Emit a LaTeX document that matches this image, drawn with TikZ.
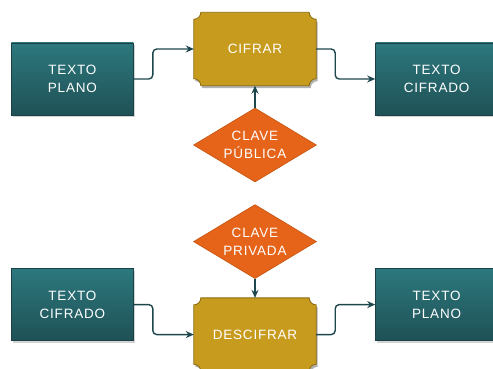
\documentclass[tikz,border=0pt]{standalone}
\usepackage{fontspec}
\setmainfont{Liberation Sans}
\newfontfamily\boxfont[LetterSpace=6]{Liberation Sans}
\usetikzlibrary{shapes.geometric,arrows.meta,positioning,calc,backgrounds,shadows}
\definecolor{dataTeal}{HTML}{2C787D}
\definecolor{dataTealLow}{HTML}{1F5156}
\definecolor{dataEdge}{HTML}{1A4146}
\definecolor{procGold}{HTML}{C79B1D}
\definecolor{procEdge}{HTML}{8C6B12}
\definecolor{keyOrange}{HTML}{E5641A}
\definecolor{keyEdge}{HTML}{C4540F}
\definecolor{flowTeal}{HTML}{1D474C}

% frame with notched corners round a named node
\newcommand{\notchframe}[2][]{%
  \path[#1] ($(#2.north west)+(0,-7pt)$) arc[start angle=-90,end angle=0,radius=7pt]
    -- ($(#2.north east)+(-7pt,0)$) arc[start angle=180,end angle=270,radius=7pt]
    -- ($(#2.south east)+(0,7pt)$) arc[start angle=90,end angle=180,radius=7pt]
    -- ($(#2.south west)+(7pt,0)$) arc[start angle=0,end angle=90,radius=7pt]
    -- cycle;}

\begin{document}
\begin{tikzpicture}[
    x=1pt, y=1pt,
    every node/.style={text=white, font=\boxfont\fontsize{13.5}{18}\selectfont, align=center},
    data/.style={rectangle, draw=dataEdge, line width=0.8pt,
                 top color=dataTeal, bottom color=dataTealLow,
                 minimum width=122pt, minimum height=72pt, inner sep=0pt,
                 drop shadow={opacity=0.35, shadow xshift=1.5pt, shadow yshift=-2.5pt}},
    proc/.style={rectangle, minimum width=122pt, minimum height=73pt, inner sep=0pt},
    key/.style={diamond, aspect=1.66, draw=keyEdge, line width=0.6pt, fill=keyOrange,
                minimum width=123pt, minimum height=74pt, inner sep=0pt},
    flow/.style={-{Stealth[length=8pt,width=7pt]}, line width=1.4pt,
                 draw=flowTeal, rounded corners=4pt},
]
    \useasboundingbox (0,0) rectangle (493,369);

    % encryption
    \node[proc] (enc) at (255,320) {CIFRAR};
    \node[data, left=60pt of enc, yshift=-30pt] (plainin) {TEXTO\\PLANO};
    \node[data, right=59pt of enc, yshift=-30pt] (cipherout) {TEXTO\\CIFRADO};
    \node[key, below=22pt of enc] (pubkey) {CLAVE\\PÚBLICA};

    % decryption
    \node[key, below=22pt of pubkey] (privkey) {CLAVE\\PRIVADA};
    \node[proc, below=19pt of privkey] (dec) {DESCIFRAR};
    \node[data, left=60pt of dec, yshift=30pt] (cipherin) {TEXTO\\CIFRADO};
    \node[data, right=59pt of dec, yshift=30pt] (plainout) {TEXTO\\PLANO};

    \begin{scope}[on background layer]
        \notchframe[fill=black, opacity=0.3, transform canvas={shift={(1.5pt,-2.5pt)}}]{enc}
        \notchframe[fill=procGold, draw=procEdge, line width=0.8pt]{enc}
        \notchframe[fill=black, opacity=0.3, transform canvas={shift={(1.5pt,-2.5pt)}}]{dec}
        \notchframe[fill=procGold, draw=procEdge, line width=0.8pt]{dec}
    \end{scope}

    \draw[flow] (plainin.east) -- ++(19pt,0) |- (enc.west);
    \draw[flow] (enc.east) -- ++(19pt,0) |- (cipherout.west);
    \draw[flow] (pubkey) -- (enc);
    \draw[flow] (cipherin.east) -- ++(19pt,0) |- (dec.west);
    \draw[flow] (dec.east) -- ++(19pt,0) |- (plainout.west);
    \draw[flow] (privkey) -- (dec);
\end{tikzpicture}
\end{document}
